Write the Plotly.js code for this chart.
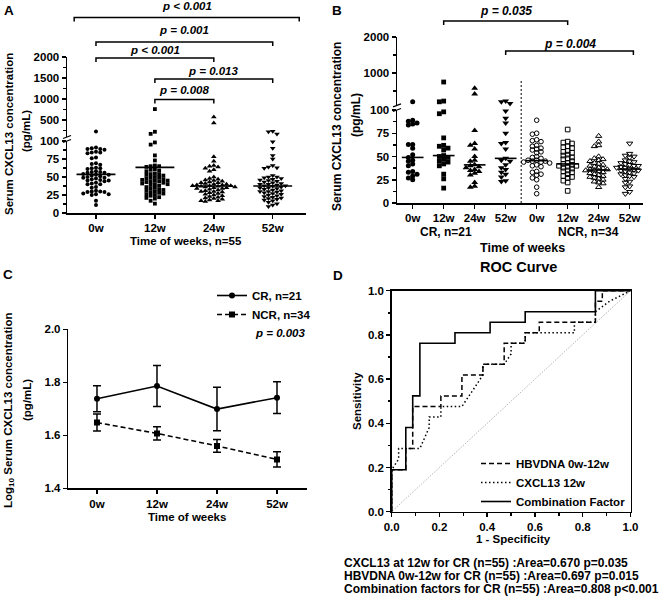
<!DOCTYPE html>
<html>
<head>
<meta charset="utf-8">
<script src="https://cdn.plot.ly/plotly-3.0.1.min.js"></script>
<style>
  body { margin: 0; background: #fff; }
  #chart { width: 661px; height: 599px; }
</style>
</head>
<body>
<div id="chart"></div>
<script>
const W = 661, H = 599;
const FONT = 'Liberation Sans, Arial, sans-serif';

// pixel -> paper helpers (layout only)
const fx = p => p / W;
const fy = p => 1 - p / H;

const weeks = ['0w', '12w', '24w', '52w'];

// Panel A: serum CXCL13 (pg/mL), n=55 per time point
const a0w = [225, 91, 90, 89, 89, 88, 85, 84, 84, 83, 77, 76, 69, 68, 67, 63, 62, 62, 61, 58,
  57, 57, 56, 56, 54, 53, 53, 52, 51, 50, 49, 49, 48, 47, 46, 45, 45, 44, 42, 41,
  40, 40, 36, 35, 31, 30, 30, 29, 29, 27, 26, 26, 25, 17, 11];
const a12w = [760, 220, 170, 98, 95, 80, 73, 66, 65, 65, 64, 61, 60, 59, 58, 55, 54, 54, 53, 52,
  50, 49, 49, 48, 47, 46, 45, 45, 44, 44, 43, 42, 41, 40, 40, 39, 38, 36, 35, 34,
  33, 32, 31, 30, 29, 28, 27, 26, 25, 24, 22, 21, 20, 17, 13];
const a24w = [570, 430, 78, 72, 66, 65, 64, 62, 60, 58, 50, 48, 47, 46, 45, 44, 43, 42, 42, 41,
  40, 40, 39, 39, 38, 38, 38, 37, 37, 36, 36, 35, 35, 34, 34, 33, 32, 31, 30, 30,
  29, 28, 27, 26, 25, 24, 23, 22, 21, 20, 19, 18, 17, 17, 16];
const a52w = [230, 220, 165, 99, 90, 80, 75, 66, 64, 63, 62, 52, 50, 50, 49, 48, 47, 46, 45, 44,
  43, 42, 41, 40, 40, 39, 38, 38, 37, 36, 35, 35, 34, 33, 32, 31, 30, 30, 29, 28,
  27, 26, 25, 24, 23, 22, 21, 20, 19, 18, 17, 15, 13, 11, 9];
const aLines = [53.7, 63.4, 37.5, 37.5];
const aPvals = ['p &lt; 0.001', 'p = 0.001', 'p &lt; 0.001', 'p = 0.013', 'p = 0.008'];

// Panel B: CR (n=21) and NCR (n=34)
const bCR0w = [200, 89, 88, 86, 85, 84, 63, 63, 59, 52, 49, 46, 45, 42, 40, 34, 33, 31, 29, 27, 25];
const bCR12w = [750, 220, 200, 98, 96, 70, 62, 61, 59, 57, 51, 50, 49, 47, 45, 44, 42, 40, 31, 26, 16];
const bCR24w = [580, 415, 78, 64, 62, 58, 50, 46, 45, 41, 40, 39, 38, 36, 35, 34, 32, 30, 22, 18, 17];
const bCR52w = [220, 200, 150, 99, 91, 86, 75, 65, 64, 58, 48, 46, 45, 41, 38, 36, 33, 31, 28, 24, 23];
const bNCR0w = [89, 75, 74, 68, 67, 66, 62, 61, 59, 58, 57, 55, 54, 50, 49, 48, 46, 46, 45, 45,
  44, 44, 43, 41, 40, 39, 34, 33, 31, 30, 27, 25, 17, 10];
const bNCR12w = [79, 66, 65, 64, 61, 60, 59, 56, 55, 54, 52, 51, 49, 48, 47, 45, 43, 42, 41, 40,
  40, 39, 38, 37, 35, 34, 33, 31, 29, 28, 27, 24, 22, 13];
const bNCR24w = [72, 66, 62, 61, 50, 48, 47, 46, 45, 43, 42, 41, 40, 39, 38, 37, 36, 36, 35, 35,
  34, 33, 32, 31, 30, 29, 28, 27, 26, 25, 23, 22, 21, 17];
const bNCR52w = [64, 53, 51, 50, 49, 46, 45, 44, 43, 42, 41, 40, 40, 39, 38, 38, 37, 36, 35, 35,
  34, 33, 32, 31, 30, 29, 28, 26, 23, 22, 18, 17, 12, 10];
const bLines = [49, 51, 41, 48, 45.5, 42, 35.5, 36.5];
const bPvals = ['p = 0.035', 'p = 0.004'];

// Panel C: log10 CXCL13, mean +/- SEM
const cCRMean = [1.738, 1.786, 1.699, 1.742];
const cCRErr = [0.049, 0.077, 0.082, 0.060];
const cNCRMean = [1.648, 1.607, 1.560, 1.509];
const cNCRErr = [0.032, 0.025, 0.024, 0.029];

// Panel D: ROC curves (1 - specificity, sensitivity)
const hbvFpr = [0, 0, 0.059, 0.088, 0.206, 0.294, 0.382, 0.471, 0.559, 0.618, 0.853, 0.882, 1];
const hbvTpr = [0, 0.190, 0.286, 0.476, 0.524, 0.619, 0.667, 0.762, 0.810, 0.857, 0.952, 1, 1];
const cxclFpr = [0, 0, 0.029, 0.029, 0.118, 0.157, 0.157, 0.206, 0.206, 0.294, 0.353, 0.382, 0.382,
  0.471, 0.500, 0.500, 0.559, 0.559, 0.765, 0.765, 0.853, 0.853, 0.912, 1];
const cxclTpr = [0, 0.190, 0.238, 0.286, 0.286, 0.381, 0.429, 0.429, 0.476, 0.476, 0.571, 0.619, 0.667,
  0.667, 0.714, 0.762, 0.762, 0.810, 0.810, 0.857, 0.857, 0.905, 0.952, 1];
const combFpr = [0, 0, 0.059, 0.088, 0.118, 0.265, 0.412, 0.559, 0.853, 1];
const combTpr = [0, 0.190, 0.381, 0.524, 0.762, 0.810, 0.857, 0.905, 1, 1];
const diagX = [0, 1];
const diagY = [0, 1];
const rocStats = [
  'CXCL13 at 12w for CR (n=55) :Area=0.670 p=0.035',
  'HBVDNA 0w-12w for CR (n=55) :Area=0.697 p=0.015',
  'Combination factors for CR (n=55) :Area=0.808 p&lt;0.001'
];

// scatter dot plot: each point takes the nearest free side slot
function swarm(values, center, pix, d, dx) {
  const order = values.map((v, i) => i).sort((a, b) => values[b] - values[a]);
  const placed = [];
  const xs = new Array(values.length);
  order.forEach(i => {
    const py = pix(values[i]);
    for (let n = 0; ; n++) {
      const slot = n === 0 ? 0 : (n % 2 ? -(n + 1) / 2 : n / 2);
      if (!placed.some(p => p.slot === slot && Math.abs(p.py - py) < d)) {
        placed.push({ slot: slot, py: py });
        xs[i] = center + slot * dx;
        break;
      }
    }
  });
  return xs;
}

function dots(x, y, xa, ya, symbol, size) {
  const open = symbol.indexOf('open') >= 0;
  return {
    x: x, y: y, xaxis: xa, yaxis: ya, type: 'scatter', mode: 'markers', showlegend: false,
    cliponaxis: false, hoverinfo: 'skip',
    marker: { symbol: symbol, size: size, color: 'black', line: { color: 'black', width: open ? 1 : 0 } }
  };
}

function centerLine(i, v, half, xa, ya) {
  return {
    x: [i - half, i + half], y: [v, v], xaxis: xa, yaxis: ya, type: 'scatter', mode: 'lines',
    showlegend: false, hoverinfo: 'skip', line: { color: 'black', width: 1.6 }
  };
}

const traces = [];

// ---- panel A
const aGroups = [a0w, a12w, a24w, a52w];
const aSymbols = ['circle', 'square', 'triangle-up', 'triangle-down'];
const aSizes = [4, 3.8, 5, 5];
const aPix = v => v <= 100 ? v * 0.72 : 76 + (v - 100) * 0.042;
aGroups.forEach((vals, i) => {
  const xs = swarm(vals, i, aPix, 3.2, 0.072);
  const lo = { x: [], y: [] }, up = { x: [], y: [] };
  vals.forEach((v, k) => { const t = v <= 100 ? lo : up; t.x.push(xs[k]); t.y.push(v); });
  traces.push(dots(lo.x, lo.y, 'x', 'y', aSymbols[i], aSizes[i]));
  traces.push(dots(up.x, up.y, 'x', 'y2', aSymbols[i], aSizes[i]));
  traces.push(centerLine(i, aLines[i], 0.33, 'x', 'y'));
});

// ---- panel B
const bGroups = [bCR0w, bCR12w, bCR24w, bCR52w, bNCR0w, bNCR12w, bNCR24w, bNCR52w];
const bSymbols = ['circle', 'square', 'triangle-up', 'triangle-down',
  'circle-open', 'square-open', 'triangle-up-open', 'triangle-down-open'];
const bSizes = [5, 4.8, 6, 6, 4.6, 4.6, 5.4, 5.4];
const bPix = v => v <= 100 ? v * 0.93 : 97.6 + (v - 100) * 0.036;
bGroups.forEach((vals, i) => {
  const xs = swarm(vals, i, bPix, 3.6, 0.14);
  const lo = { x: [], y: [] }, up = { x: [], y: [] };
  vals.forEach((v, k) => { const t = v <= 100 ? lo : up; t.x.push(xs[k]); t.y.push(v); });
  traces.push(dots(lo.x, lo.y, 'x2', 'y3', bSymbols[i], bSizes[i]));
  traces.push(dots(up.x, up.y, 'x2', 'y4', bSymbols[i], bSizes[i]));
  traces.push(centerLine(i, bLines[i], 0.35, 'x2', 'y3'));
});

// ---- panel C
const cx = weeks.map((w, i) => i);
traces.push({
  x: cx, y: cCRMean, xaxis: 'x3', yaxis: 'y5', type: 'scatter', mode: 'lines+markers',
  name: 'CR, n=21', legend: 'legend',
  line: { color: 'black', width: 1.6 }, marker: { symbol: 'circle', size: 6, color: 'black' },
  error_y: { type: 'data', array: cCRErr, color: 'black', thickness: 1.5, width: 4 }
});
traces.push({
  x: cx, y: cNCRMean, xaxis: 'x3', yaxis: 'y5', type: 'scatter', mode: 'lines+markers',
  name: 'NCR, n=34', legend: 'legend',
  line: { color: 'black', width: 1.6, dash: '5px,3px' }, marker: { symbol: 'square', size: 6, color: 'black' },
  error_y: { type: 'data', array: cNCRErr, color: 'black', thickness: 1.5, width: 4 }
});

// ---- panel D
traces.push({
  x: diagX, y: diagY, xaxis: 'x4', yaxis: 'y6', type: 'scatter', mode: 'lines', showlegend: false,
  line: { color: '#888', width: 0.8, dash: '1px,1.5px' }
});
traces.push({
  x: hbvFpr, y: hbvTpr, xaxis: 'x4', yaxis: 'y6', type: 'scatter', mode: 'lines',
  name: 'HBVDNA 0w-12w', legend: 'legend2',
  line: { color: 'black', width: 1.5, dash: '5px,3px', shape: 'hv' }
});
traces.push({
  x: cxclFpr, y: cxclTpr, xaxis: 'x4', yaxis: 'y6', type: 'scatter', mode: 'lines',
  name: 'CXCL13 12w', legend: 'legend2',
  line: { color: 'black', width: 1.5, dash: '1.5px,2.5px' }
});
traces.push({
  x: combFpr, y: combTpr, xaxis: 'x4', yaxis: 'y6', type: 'scatter', mode: 'lines',
  name: 'Combination Factor', legend: 'legend2',
  line: { color: 'black', width: 1.6, shape: 'hv' }
});

// ---- axes
const tickFont = { family: FONT, size: 11.5, color: 'black', weight: 'bold' };
function axis(extra) {
  return Object.assign({
    showline: true, linewidth: 1.5, linecolor: 'black',
    ticks: 'outside', ticklen: 4, tickwidth: 1.5, tickcolor: 'black',
    showgrid: false, zeroline: false, tickfont: tickFont, fixedrange: true
  }, extra);
}
const minor = (tick0, dtick) => ({ ticks: 'outside', ticklen: 2.5, tickwidth: 1.5, tickcolor: 'black', tick0: tick0, dtick: dtick });

const layout = {
  width: W, height: H,
  margin: { l: 0, r: 0, t: 0, b: 0 },
  paper_bgcolor: 'white', plot_bgcolor: 'white',
  font: { family: FONT, color: 'black' },
  // A
  xaxis: axis({ domain: [fx(67), fx(306)], range: [-0.492, 3.565], anchor: 'y',
    tickmode: 'array', tickvals: [0, 1, 2, 3], ticktext: weeks }),
  yaxis: axis({ domain: [fy(213), fy(141)], range: [0, 100], anchor: 'x',
    tickmode: 'array', tickvals: [0, 25, 50, 75, 100], minor: minor(0, 12.5) }),
  yaxis2: axis({ domain: [fy(136.8), fy(57)], range: [100, 2001], anchor: 'x',
    tickmode: 'array', tickvals: [500, 1000, 1500, 2000], minor: minor(250, 500) }),
  // B
  xaxis2: axis({ domain: [fx(397), fx(643)], range: [-0.506, 7.43], anchor: 'y3',
    tickmode: 'array', tickvals: [0, 1, 2, 3, 4, 5, 6, 7], ticktext: weeks.concat(weeks) }),
  yaxis3: axis({ domain: [fy(203), fy(110)], range: [0, 100], anchor: 'x2',
    tickmode: 'array', tickvals: [0, 25, 50, 75, 100], minor: minor(0, 12.5) }),
  yaxis4: axis({ domain: [fy(105.4), fy(37)], range: [100, 2001], anchor: 'x2',
    tickmode: 'array', tickvals: [1000, 2000], minor: minor(500, 1000) }),
  // C
  xaxis3: axis({ domain: [fx(68.3), fx(307)], range: [-0.478, 3.5], anchor: 'y5',
    tickmode: 'array', tickvals: [0, 1, 2, 3], ticktext: weeks }),
  yaxis5: axis({ domain: [fy(488.3), fy(329.3)], range: [1.4, 2.0], anchor: 'x3',
    tickmode: 'array', tickvals: [1.4, 1.6, 1.8, 2.0], tickformat: '.1f' }),
  // D
  xaxis4: axis({ domain: [fx(391.7), fx(630.5)], range: [0, 1], anchor: 'y6', mirror: true,
    tickmode: 'array', tickvals: [0, 0.2, 0.4, 0.6, 0.8, 1], tickformat: '.1f', minor: minor(0, 0.1) }),
  yaxis6: axis({ domain: [fy(511.7), fy(290.7)], range: [0, 1], anchor: 'x4', mirror: true,
    tickmode: 'array', tickvals: [0, 0.2, 0.4, 0.6, 0.8, 1], tickformat: '.1f', minor: minor(0, 0.1) }),
  legend: {
    x: fx(212), y: fy(281), xanchor: 'left', yanchor: 'top', bgcolor: 'rgba(0,0,0,0)',
    itemwidth: 30, font: { family: FONT, size: 11.5, color: 'black', weight: 'bold' }
  },
  legend2: {
    x: fx(476), y: fy(449), xanchor: 'left', yanchor: 'top', bgcolor: 'rgba(0,0,0,0)',
    itemwidth: 30, font: { family: FONT, size: 11.5, color: 'black', weight: 'bold' }
  },
  shapes: [],
  annotations: []
};

const txt = (text, x, y, opt) => Object.assign({
  text: text, x: fx(x), y: fy(y), xref: 'paper', yref: 'paper', showarrow: false,
  xanchor: 'center', yanchor: 'middle',
  font: { family: FONT, size: 11.5, color: 'black', weight: 'bold' }
}, opt || {});
const boldItalic = size => ({ family: FONT, size: size, color: 'black', weight: 'bold', style: 'italic' });

// brackets with p-values
function bracket(xa, x0, x1, lineY, labelY, label, size) {
  const ya = fy(lineY + 4), yb = fy(lineY);
  layout.shapes.push({
    type: 'path', xref: xa, yref: 'paper',
    path: `M ${x0},${ya} L ${x0},${yb} L ${x1},${yb} L ${x1},${ya}`,
    line: { color: 'black', width: 1.5 }
  });
  layout.annotations.push({
    text: label, x: (x0 + x1) / 2, y: fy(labelY), xref: xa, yref: 'paper', showarrow: false,
    xanchor: 'center', yanchor: 'middle', font: boldItalic(size)
  });
}
const aPairs = [[-0.37, 3.45], [0, 3], [0, 2], [1, 3], [1, 2]];
const aLineY = [17.5, 42, 58, 79, 99.5];
const aLabelY = [6, 29.5, 50, 71, 90];
aPvals.forEach((p, i) => bracket('x', aPairs[i][0], aPairs[i][1], aLineY[i], aLabelY[i], p, 11.5));
const bPairs = [[1, 5], [3, 7.12]];
const bLineY = [21, 51];
const bLabelY = [11, 44];
bPvals.forEach((p, i) => bracket('x2', bPairs[i][0], bPairs[i][1], bLineY[i], bLabelY[i], p, 12));

// axis breaks
function breakMark(x, y) {
  layout.shapes.push({ type: 'line', xref: 'paper', yref: 'paper',
    x0: fx(x - 4), y0: fy(y + 1.5), x1: fx(x + 4), y1: fy(y - 1.5), line: { color: 'black', width: 1.3 } });
}
breakMark(67, 137); breakMark(67, 141);
breakMark(397, 105.4); breakMark(397, 110);

// CR / NCR divider in B
layout.shapes.push({ type: 'line', xref: 'x2', yref: 'paper', x0: 3.5, x1: 3.5, y0: fy(203), y1: fy(81),
  line: { color: 'black', width: 1, dash: '2px,2px' } });

const ann = layout.annotations;
const letterFont = { family: FONT, size: 13.5, color: 'black', weight: 'bold' };
// panel letters
ann.push(txt('A', 9, 10, { font: letterFont }));
ann.push(txt('B', 337, 10, { font: letterFont }));
ann.push(txt('C', 8, 275, { font: letterFont }));
ann.push(txt('D', 338, 276, { font: letterFont }));
// A titles
ann.push(txt('Serum CXCL13 concentration', 9, 134, { textangle: -90 }));
ann.push(txt('(pg/mL)', 26, 131, { textangle: -90 }));
ann.push(txt('Time of weeks, n=55', 186, 241));
// B titles
const f12 = { family: FONT, size: 12, color: 'black', weight: 'bold' };
ann.push(txt('Serum CXCL13 concentration', 337, 127, { textangle: -90, font: f12 }));
ann.push(txt('(pg/mL)', 356, 115, { textangle: -90, font: f12 }));
ann.push(txt('CR, n=21', 446, 232, { font: f12 }));
ann.push(txt('NCR, n=34', 588, 232, { font: f12 }));
ann.push(txt('Time of weeks', 522, 248, { font: Object.assign({}, f12, { size: 12.5 }) }));
// C titles
ann.push(txt('Log<sub>10</sub> Serum CXCL13 concentration', 9, 410, { textangle: -90 }));
ann.push(txt('(pg/mL)', 27, 400, { textangle: -90 }));
ann.push(txt('Time of weeks', 187, 517));
ann.push(txt('p = 0.003', 253, 333, { xanchor: 'left', font: boldItalic(11.5) }));
// D titles
ann.push(txt('ROC Curve', 518, 267, { font: { family: FONT, size: 14.5, color: 'black', weight: 'bold' } }));
ann.push(txt('Sensitivity', 357, 401, { textangle: -90 }));
ann.push(txt('1 - Specificity', 513, 539));
const statY = [563, 576, 588.5];
rocStats.forEach((s, i) => ann.push(txt(s, 342, statY[i], {
  xanchor: 'left', font: { family: FONT, size: 12, color: 'black', weight: 'bold' } })));

Plotly.newPlot('chart', traces, layout, { displayModeBar: false, staticPlot: true });
</script>
</body>
</html>
